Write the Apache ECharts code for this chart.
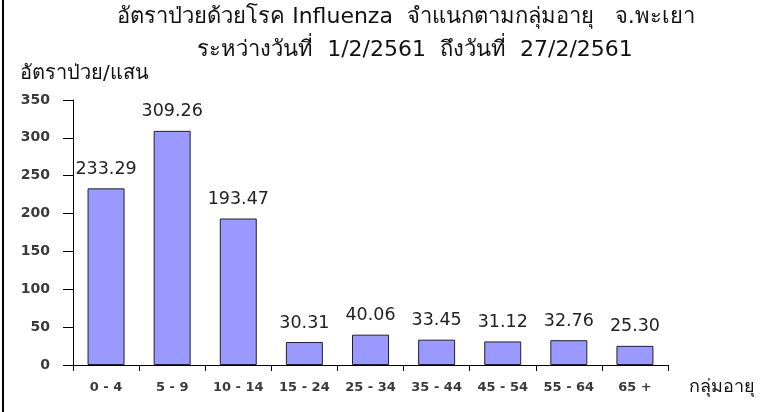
<!DOCTYPE html>
<html>
<head>
<meta charset="utf-8">
<script src="https://cdn.jsdelivr.net/npm/echarts@6/dist/echarts.min.js"></script>
<style>
  html, body { margin: 0; padding: 0; background: #fff; }
  #chart { width: 760px; height: 412px; }
</style>
</head>
<body>
<div id="chart"></div>
<script>
const titleLines = ['อัตราป่วยด้วยโรค Influenza  จำแนกตามกลุ่มอายุ   จ.พะเยา', 'ระหว่างวันที่  1/2/2561  ถึงวันที่  27/2/2561']
const yName = 'อัตราป่วย/แสน'
const xName = 'กลุ่มอายุ'
const ageGroups = ['0 - 4', '5 - 9', '10 - 14', '15 - 24', '25 - 34', '35 - 44', '45 - 54', '55 - 64', '65 +']
const rates = [233.29, 309.26, 193.47, 30.31, 40.06, 33.45, 31.12, 32.76, 25.30]

const font = 'Tahoma, "DejaVu Sans", "Noto Sans", sans-serif'
const chart = echarts.init(document.getElementById('chart'))

chart.setOption({
  backgroundColor: '#fff',
  animation: false,
  graphic: [
    {
      type: 'line',
      shape: { x1: 3, y1: 0, x2: 3, y2: 412 },
      style: { stroke: '#000', lineWidth: 2 }
    },
    {
      type: 'text',
      x: 406,
      y: 17,
      style: { text: titleLines[0], font: '22px ' + font, fill: '#111', align: 'center', verticalAlign: 'middle' }
    },
    {
      type: 'text',
      x: 415,
      y: 50,
      style: { text: titleLines[1], font: '22px ' + font, fill: '#111', align: 'center', verticalAlign: 'middle' }
    },
    {
      type: 'text',
      left: 20,
      top: 64,
      style: { text: yName, font: '20px ' + font, fill: '#111' }
    },
    {
      type: 'text',
      left: 689,
      top: 378,
      style: { text: xName, font: '18px ' + font, fill: '#111' }
    }
  ],
  grid: {
    left: 73,
    right: 92,
    top: 100,
    bottom: 47
  },
  xAxis: {
    type: 'category',
    data: ageGroups,
    axisLine: { lineStyle: { color: '#000', width: 1 } },
    axisTick: { show: true, length: 6, interval: 0, lineStyle: { color: '#000' } },
    axisLabel: {
      interval: 0,
      margin: 16,
      fontFamily: font,
      fontSize: 13,
      fontWeight: 'bold',
      color: '#3a3a3a'
    }
  },
  yAxis: {
    type: 'value',
    min: 0,
    max: 350,
    interval: 50,
    splitLine: { show: false },
    axisLine: { show: true, lineStyle: { color: '#000', width: 1 } },
    axisTick: { show: true, length: 10, lineStyle: { color: '#000' } },
    axisLabel: {
      margin: 23,
      fontFamily: font,
      fontSize: 14,
      fontWeight: 'bold',
      color: '#3a3a3a'
    }
  },
  series: [{
    type: 'bar',
    data: rates,
    barWidth: 37,
    itemStyle: {
      color: '#9999ff',
      borderColor: '#222',
      borderWidth: 1
    },
    label: {
      show: true,
      position: 'top',
      distance: 10,
      fontFamily: font,
      fontSize: 17.5,
      color: '#222',
      formatter: p => p.value.toFixed(2)
    }
  }]
})
</script>
</body>
</html>
